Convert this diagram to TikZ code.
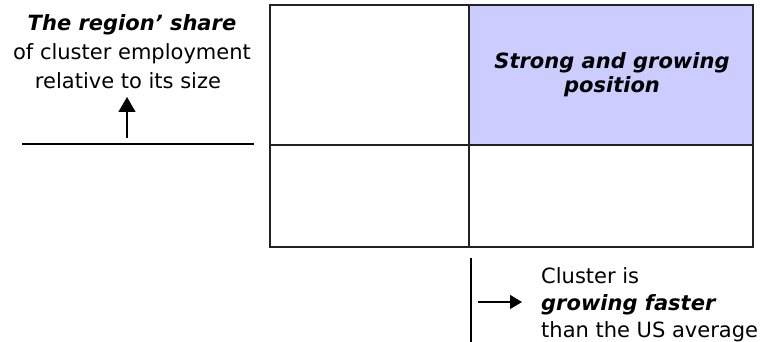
\documentclass[tikz,border=0pt]{standalone}
\usepackage{fontspec}
\setmainfont{DejaVu Sans}
\usetikzlibrary{arrows.meta}
\definecolor{lav}{HTML}{CCCCFF}
\definecolor{frame}{HTML}{222222}
\begin{document}
\begin{tikzpicture}[x=1pt,y=-1pt,
  txt/.style={inner sep=0pt,anchor=base,font=\fontsize{21}{24}\selectfont},
  ltxt/.style={txt,anchor=base west},
  bi/.style={font=\fontsize{21}{24}\selectfont\bfseries\itshape},
  grid/.style={draw=frame,line width=1.6pt},
  axis/.style={draw=black,line width=1.3pt},
  arr/.style={axis,-{Triangle[width=17pt,length=15pt]}},
  arrs/.style={axis,-{Triangle[width=14pt,length=12pt]}}]
\useasboundingbox (0,0) rectangle (763,342);
\fill[lav] (469,5) rectangle (753,145);
\draw[grid] (270,5) rectangle (753,247);
\draw[grid] (469,5) -- (469,247);
\draw[grid] (270,145) -- (753,145);
% left labels
\node[txt,bi] (l1) at (132,31) {The region’ share};
\node[txt] (l2) at (132,60) {of cluster employment};
\node[txt] (l3) at (128,89) {relative to its size};
\coordinate (ua) at (127,138);
\coordinate (ub) at (127,97);
\draw[arr] (ua) -- (ub);
\coordinate (h1) at (22,144);
\coordinate (h2) at (254,144);
\draw[axis] (h1) -- (h2);
% box text
\node[txt,bi] (b1) at (612,69) {Strong and growing};
\node[txt,bi] (b2) at (612,93) {position};
% bottom
\coordinate (v1) at (471,258);
\coordinate (v2) at (471,342);
\draw[axis] (v1) -- (v2);
\coordinate (ra) at (478,302);
\coordinate (rb) at (522,302);
\draw[arrs] (ra) -- (rb);
\node[ltxt] (r1) at (541,283) {Cluster is};
\node[ltxt,bi] (r2) at (541,310) {growing faster};
\node[ltxt] (r3) at (541,337) {than the US average};
\end{tikzpicture}
\end{document}
